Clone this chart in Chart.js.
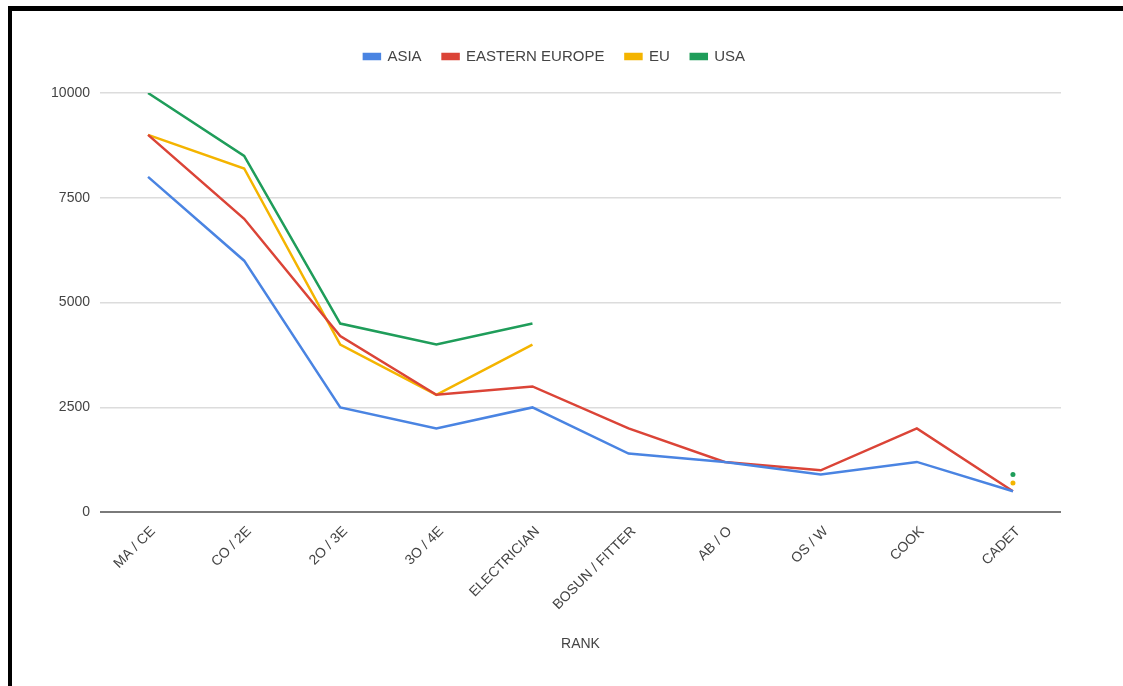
<!DOCTYPE html>
<html>
<head>
<meta charset="utf-8">
<script src="https://cdn.jsdelivr.net/npm/chart.js@4.4.0/dist/chart.umd.min.js"></script>
<style>
  html, body { margin: 0; padding: 0; background: #fff; }
  #wrap { position: absolute; left: 0; top: 0; width: 1123px; height: 686px; }
  #frameTop { position: absolute; left: 8px; top: 6px; width: 1115px; height: 5px; background: #000; }
  #frameLeft { position: absolute; left: 8px; top: 6px; width: 4px; height: 680px; background: #000; }
</style>
</head>
<body>
<div id="wrap">
  <canvas id="c" width="1123" height="686"></canvas>
</div>
<div id="frameTop"></div>
<div id="frameLeft"></div>
<script>
const categories = ["MA / CE", "CO / 2E", "2O / 3E", "3O / 4E", "ELECTRICIAN", "BOSUN / FITTER", "AB / O", "OS / W", "COOK", "CADET"];
const asia = [8000, 6000, 2500, 2000, 2500, 1400, 1200, 900, 1200, 500];
const easternEurope = [9000, 7000, 4200, 2800, 3000, 2000, 1200, 1000, 2000, 500];
const eu = [9000, 8200, 4000, 2800, 4000, null, null, null, null, 700];
const usa = [10000, 8500, 4500, 4000, 4500, null, null, null, null, 900];
const yTicks = [0, 2500, 5000, 7500, 10000];

function isolatedRadius(ctx) {
  const d = ctx.dataset.data;
  const i = ctx.dataIndex;
  if (d[i] == null) return 0;
  const prev = i > 0 ? d[i - 1] : null;
  const next = i < d.length - 1 ? d[i + 1] : null;
  return (prev == null && next == null) ? 2.5 : 0;
}

function ds(label, data, color) {
  return {
    label, data,
    borderColor: color, backgroundColor: color,
    borderWidth: 2.5, tension: 0,
    pointRadius: isolatedRadius, pointHoverRadius: 0,
    pointBorderWidth: 0, spanGaps: false
  };
}

const FONT = 'Liberation Sans, Arial, sans-serif';

// extra space below the legend (pushes the plot area down)
const legendGap = {
  id: 'legendGap',
  beforeLayout(chart) {
    const lg = chart.legend;
    if (lg && !lg._gapPatched) {
      const orig = lg.fit;
      lg.fit = function () { orig.call(this); this.height += 19; };
      lg._gapPatched = true;
    }
  }
};

new Chart(document.getElementById('c'), {
  type: 'line',
  data: {
    labels: categories,
    datasets: [
      ds('ASIA', asia, '#4a84e2'),
      ds('EASTERN EUROPE', easternEurope, '#db4437'),
      ds('EU', eu, '#f4b400'),
      ds('USA', usa, '#1f9d5a')
    ]
  },
  plugins: [legendGap],
  options: {
    responsive: false,
    animation: false,
    events: [],
    layout: { padding: { top: 28, right: 62, bottom: 33, left: 48 } },
    plugins: {
      tooltip: { enabled: false },
      legend: {
        position: 'top',
        align: 'center',
        labels: {
          boxWidth: 16, boxHeight: 5, padding: 21,
          color: '#444',
          font: { family: FONT, size: 15 }
        }
      }
    },
    scales: {
      x: {
        offset: true,
        grid: { display: false, drawTicks: false },
        border: { display: false },
        ticks: {
          color: '#444', maxRotation: 45, minRotation: 45, autoSkip: false, padding: 11, labelOffset: 5,
          font: { family: FONT, size: 14 }
        },
        title: {
          display: true, text: 'RANK', color: '#444', padding: { top: 12, bottom: 0 },
          font: { family: FONT, size: 14 }
        }
      },
      y: {
        min: 0, max: 10000,
        afterFit(scale) { scale.width = 52; },
        afterBuildTicks(scale) { scale.ticks = yTicks.map(v => ({ value: v })); },
        grid: {
          drawTicks: false,
          color: ctx => (ctx.tick && ctx.tick.value === 0) ? '#7a7a7a' : '#dcdcdc',
          lineWidth: ctx => (ctx.tick && ctx.tick.value === 0) ? 2 : 1.5
        },
        border: { display: false },
        ticks: {
          color: '#444', padding: 10,
          font: { family: FONT, size: 14 },
          callback: v => String(v)
        }
      }
    }
  }
});
</script>
</body>
</html>
